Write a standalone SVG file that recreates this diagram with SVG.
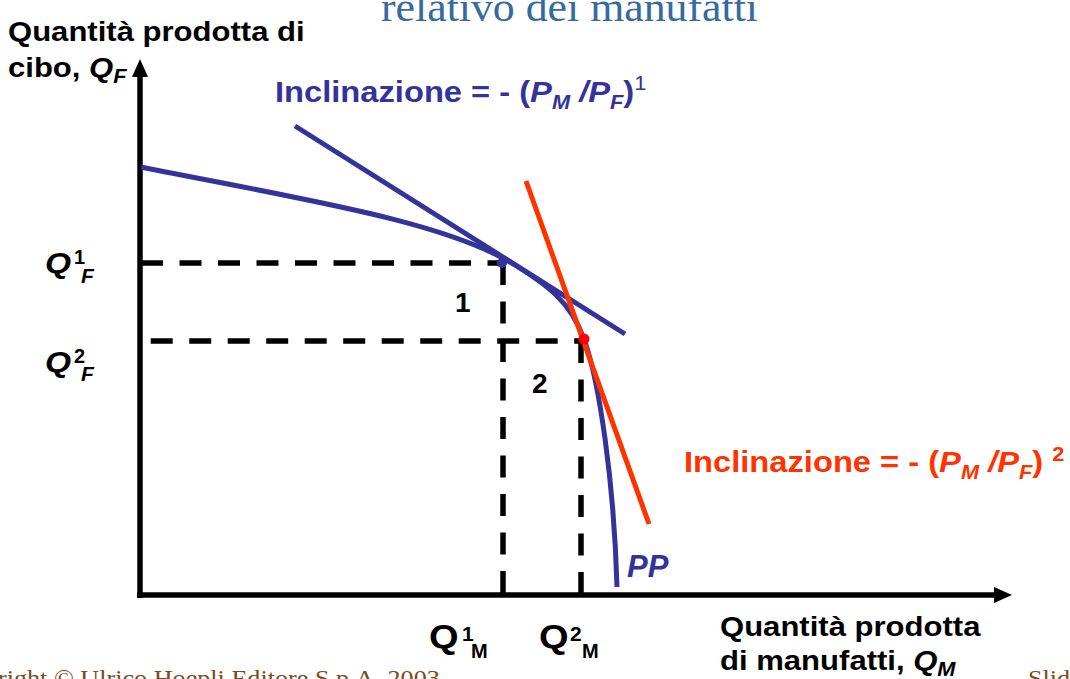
<svg xmlns="http://www.w3.org/2000/svg" width="1070" height="679" viewBox="0 0 1070 679">
<style>
.lbl{font-family:"Liberation Sans",Arial,sans-serif;font-weight:bold;fill:#000}
.blue{font-family:"Liberation Sans",Arial,sans-serif;font-weight:bold;fill:#333399}
.red{font-family:"Liberation Sans",Arial,sans-serif;font-weight:bold;fill:#FF3300}
.serif{font-family:"Liberation Serif","Times New Roman",serif}
.it{font-style:italic}
.axis{stroke:#000;stroke-width:5.5;fill:none}
.dash{stroke:#000;stroke-width:5.5;fill:none;stroke-dasharray:22 16.5}
.pp{stroke:#333399;stroke-width:5;fill:none}
.red-line{stroke:#FF3300;stroke-width:5;fill:none}
</style>
<defs>
<marker id="arrow" markerUnits="userSpaceOnUse" markerWidth="20" markerHeight="18" refX="2" refY="9" orient="auto">
<path d="M0,1 L18,9 L0,17 Z" fill="#000"/>
</marker>
</defs>
<rect width="1070" height="679" fill="#fff"/>

<g id="title">
<text class="serif" x="381" y="21" font-size="42" fill="#366A9E" textLength="377" lengthAdjust="spacingAndGlyphs">relativo dei manufatti</text>
</g>

<g id="connectors">
<path class="dash" d="M141,263 H502"/>
<path class="dash" d="M150.7,341 H583"/>
<path class="dash" d="M503,263 V594"/>
<path class="dash" d="M581,341 V594"/>
<path class="axis" d="M140,598 V75" marker-end="url(#arrow)"/>
<path class="axis" d="M137,595 H996" marker-end="url(#arrow)"/>
</g>

<g id="pp-curve">
<path class="pp" d="M141,167 C300,199 445,221 515,265 C545,284 570,300 584,339 C599,380.5 614,480 617,587"/>
</g>
<g id="tangent-1">
<path class="pp" d="M295,126 L625,334"/>
<circle cx="502" cy="263" r="5" fill="#333399"/>
</g>
<g id="tangent-2">
<path class="red-line" d="M526,181 L649,524"/>
<circle cx="584" cy="339" r="5.5" fill="#FF0000"/>
</g>

<g id="y-axis-label">
<text class="lbl" font-size="28.5" transform="translate(8,41) scale(1.09,1)">Quantità prodotta di</text>
<text class="lbl" font-size="28.5" transform="translate(8,77) scale(1.09,1)">cibo, <tspan class="it">Q</tspan><tspan class="it" font-size="20" dy="6">F</tspan></text>
</g>

<g id="x-axis-label">
<text class="lbl" font-size="28.5" transform="translate(720,636) scale(1.09,1)">Quantità prodotta</text>
<text class="lbl" font-size="28.5" transform="translate(720,670) scale(1.09,1)">di manufatti, <tspan class="it">Q</tspan><tspan class="it" font-size="20" dy="6">M</tspan></text>
</g>

<g id="slope-1-label">
<text class="blue" font-size="30" transform="translate(275,102) scale(1.09,1)">Inclinazione = - (<tspan class="it">P</tspan><tspan class="it" font-size="20" dy="7">M</tspan><tspan class="it" dy="-7"> /P</tspan><tspan class="it" font-size="20" dy="7">F</tspan><tspan dy="-7">)</tspan><tspan font-size="20" font-weight="normal" dy="-12">1</tspan></text>
</g>

<g id="slope-2-label">
<text class="red" font-size="30" transform="translate(684,472) scale(1.09,1)">Inclinazione = - (<tspan class="it">P</tspan><tspan class="it" font-size="20" dy="7">M</tspan><tspan class="it" dy="-7"> /P</tspan><tspan class="it" font-size="20" dy="7">F</tspan><tspan dy="-7">) </tspan><tspan font-size="20" dy="-11">2</tspan></text>
</g>

<g id="q1f">
<text class="lbl it" font-size="30" transform="translate(45,273) scale(1.12,1)">Q</text>
<text class="lbl" font-size="20" font-weight="normal" x="74" y="264">1</text>
<text class="lbl it" font-size="21" x="81" y="283">F</text>
</g>
<g id="q2f">
<text class="lbl it" font-size="30" transform="translate(45,372) scale(1.12,1)">Q</text>
<text class="lbl" font-size="20" font-weight="normal" x="74" y="363">2</text>
<text class="lbl it" font-size="21" x="81" y="381">F</text>
</g>

<g id="q1m">
<text class="lbl" font-size="34" transform="translate(429,648) scale(1.12,1)">Q</text>
<text class="lbl" font-size="21" x="462" y="641">1</text>
<text class="lbl" font-size="20" x="471" y="658">M</text>
</g>
<g id="q2m">
<text class="lbl" font-size="34" transform="translate(539,648) scale(1.12,1)">Q</text>
<text class="lbl" font-size="21" x="570" y="641">2</text>
<text class="lbl" font-size="20" x="582" y="658">M</text>
</g>

<g id="region-labels">
<text class="lbl" font-size="28" x="455" y="312">1</text>
<text class="lbl" font-size="28" x="532" y="393">2</text>
</g>

<g id="pp-label">
<text class="blue it" font-size="31" x="627" y="577">PP</text>
</g>

<g id="footer">
<text class="serif" font-size="24" fill="#7A4A1E" transform="translate(-2,686) scale(1.09,1)">right © Ulrico Hoepli Editore S.p.A. 2003</text>
<text class="serif" font-size="24" fill="#7A4A1E" transform="translate(1028,686) scale(1.09,1)">Slid</text>
</g>
</svg>
